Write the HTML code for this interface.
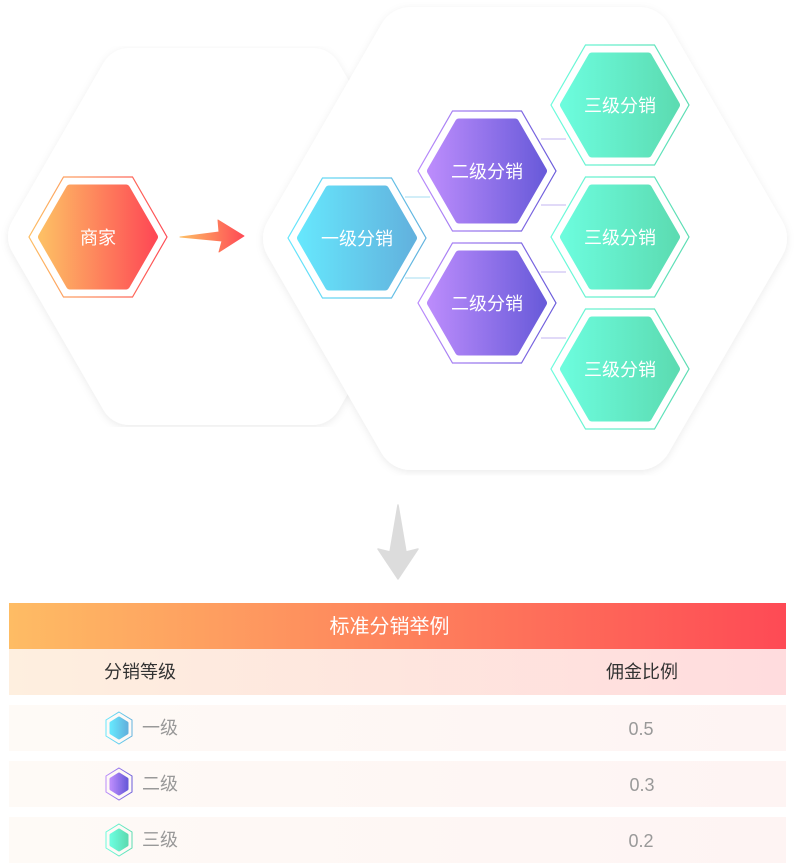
<!DOCTYPE html>
<html><head><meta charset="utf-8"><style>
body{margin:0;width:795px;height:863px;background:#fff;overflow:hidden;font-family:"Liberation Sans","Noto Sans CJK SC",sans-serif;position:relative}
svg{position:absolute;left:0;top:0}
.row{position:absolute;left:9px;width:777px;height:46px}
.t{position:absolute;font-size:18px;line-height:22px}
</style></head><body>
<svg width="795" height="863" viewBox="0 0 795 863">
<defs>
<linearGradient id="go"><stop offset="0" stop-color="#FDBE64"/><stop offset="1" stop-color="#FE4A55"/></linearGradient>
<linearGradient id="gb"><stop offset="0" stop-color="#66E6FC"/><stop offset="1" stop-color="#62B2DE"/></linearGradient>
<linearGradient id="gp"><stop offset="0" stop-color="#BA8BFB"/><stop offset="1" stop-color="#6A5BDA"/></linearGradient>
<linearGradient id="gg"><stop offset="0" stop-color="#6CFCDD"/><stop offset="1" stop-color="#5CDCB2"/></linearGradient>
<linearGradient id="ga" x1="0" x2="1"><stop offset="0" stop-color="#FDBE64"/><stop offset="1" stop-color="#FE4A55"/></linearGradient>
<filter id="sh" x="-10%" y="-10%" width="120%" height="120%"><feDropShadow dx="0" dy="2" stdDeviation="4" flood-color="#000" flood-opacity="0.08"/></filter>
<polygon id="ho" points="69,0 34.5,60 -34.5,60 -69,0 -34.5,-60 34.5,-60"/>
<polygon id="hi" points="56,0 28,48.5 -28,48.5 -56,0 -28,-48.5 28,-48.5"/>
</defs>
<polygon points="404,236.5 312.5,395 129.5,395 38,236.5 129.5,78 312.5,78" fill="#fff" stroke="#fff" stroke-width="60" stroke-linejoin="round" filter="url(#sh)"/>
<polygon points="753,238.5 639,436 411,436 297,238.5 411,41 639,41" fill="#fff" stroke="#fff" stroke-width="68" stroke-linejoin="round" filter="url(#sh)"/>
<g stroke-width="1">
<line x1="405" y1="197" x2="430" y2="197" stroke="#A6DDF2"/>
<line x1="405" y1="278" x2="430" y2="278" stroke="#A6DDF2"/>
<line x1="541" y1="139" x2="566" y2="139" stroke="#C3B4F2"/>
<line x1="541" y1="205" x2="566" y2="205" stroke="#C3B4F2"/>
<line x1="541" y1="272" x2="566" y2="272" stroke="#C3B4F2"/>
<line x1="541" y1="338" x2="566" y2="338" stroke="#C3B4F2"/>
</g>
<g font-size="18" fill="#fff" text-anchor="middle">
<g transform="translate(98,237)"><use href="#ho" fill="none" stroke="url(#go)" stroke-width="1.2"/><use href="#hi" fill="url(#go)" stroke="url(#go)" stroke-width="8" stroke-linejoin="round"/><text y="7">商家</text></g>
<g transform="translate(357,238)"><use href="#ho" fill="none" stroke="url(#gb)" stroke-width="1.2"/><use href="#hi" fill="url(#gb)" stroke="url(#gb)" stroke-width="8" stroke-linejoin="round"/><text y="7">一级分销</text></g>
<g transform="translate(487,171)"><use href="#ho" fill="none" stroke="url(#gp)" stroke-width="1.2"/><use href="#hi" fill="url(#gp)" stroke="url(#gp)" stroke-width="8" stroke-linejoin="round"/><text y="7">二级分销</text></g>
<g transform="translate(487,303)"><use href="#ho" fill="none" stroke="url(#gp)" stroke-width="1.2"/><use href="#hi" fill="url(#gp)" stroke="url(#gp)" stroke-width="8" stroke-linejoin="round"/><text y="7">二级分销</text></g>
<g transform="translate(620,105)"><use href="#ho" fill="none" stroke="url(#gg)" stroke-width="1.2"/><use href="#hi" fill="url(#gg)" stroke="url(#gg)" stroke-width="8" stroke-linejoin="round"/><text y="7">三级分销</text></g>
<g transform="translate(620,237)"><use href="#ho" fill="none" stroke="url(#gg)" stroke-width="1.2"/><use href="#hi" fill="url(#gg)" stroke="url(#gg)" stroke-width="8" stroke-linejoin="round"/><text y="7">三级分销</text></g>
<g transform="translate(620,369)"><use href="#ho" fill="none" stroke="url(#gg)" stroke-width="1.2"/><use href="#hi" fill="url(#gg)" stroke="url(#gg)" stroke-width="8" stroke-linejoin="round"/><text y="7">三级分销</text></g>
</g>
<polygon points="180,237 219,232 218,220 244,236 219,252 222,241" fill="url(#ga)" stroke="url(#ga)" stroke-width="1" stroke-linejoin="round"/>
<polygon points="398,505 406,552 418,549 398,579 378,549 390,552" fill="#DCDCDC" stroke="#DCDCDC" stroke-width="1.5" stroke-linejoin="round"/>
</svg>
<div style="position:absolute;left:9px;top:603px;width:777px;height:46px;background:linear-gradient(90deg,#FEBC64,#FE4A55)"></div>
<div class="t" style="left:-8px;width:795px;text-align:center;top:615px;color:#fff;font-size:20px;line-height:24px">标准分销举例</div>
<div class="row" style="top:649px;background:linear-gradient(90deg,#FEEFDF,#FFDCDE)"></div>
<div class="t" style="left:104px;top:661px;color:#333">分销等级</div>
<div class="t" style="left:606px;top:661px;color:#333">佣金比例</div>
<div class="row" style="top:705px;background:linear-gradient(90deg,#FEFAF6,#FEF4F3)"></div>
<div class="row" style="top:761px;background:linear-gradient(90deg,#FEFAF6,#FEF4F3)"></div>
<div class="row" style="top:817px;background:linear-gradient(90deg,#FEFAF6,#FEF4F3)"></div>
<svg width="795" height="863" viewBox="0 0 795 863" style="pointer-events:none">
<g transform="translate(119,728)"><polygon points="0,-16 13,-8 13,8 0,16 -13,8 -13,-8" fill="none" stroke="url(#gb)"/><polygon points="0,-10 8,-5 8,5 0,10 -8,5 -8,-5" fill="url(#gb)" stroke="url(#gb)" stroke-width="3" stroke-linejoin="round"/></g>
<g transform="translate(119,784)"><polygon points="0,-16 13,-8 13,8 0,16 -13,8 -13,-8" fill="none" stroke="url(#gp)"/><polygon points="0,-10 8,-5 8,5 0,10 -8,5 -8,-5" fill="url(#gp)" stroke="url(#gp)" stroke-width="3" stroke-linejoin="round"/></g>
<g transform="translate(119,840)"><polygon points="0,-16 13,-8 13,8 0,16 -13,8 -13,-8" fill="none" stroke="url(#gg)"/><polygon points="0,-10 8,-5 8,5 0,10 -8,5 -8,-5" fill="url(#gg)" stroke="url(#gg)" stroke-width="3" stroke-linejoin="round"/></g>
</svg>
<div class="t" style="left:142px;top:717px;color:#999">一级</div>
<div class="t" style="left:142px;top:773px;color:#999">二级</div>
<div class="t" style="left:142px;top:829px;color:#999">三级</div>
<div class="t" style="left:601px;width:80px;text-align:center;top:718px;color:#999">0.5</div>
<div class="t" style="left:602px;width:80px;text-align:center;top:774px;color:#999">0.3</div>
<div class="t" style="left:601px;width:80px;text-align:center;top:830px;color:#999">0.2</div>
</body></html>
